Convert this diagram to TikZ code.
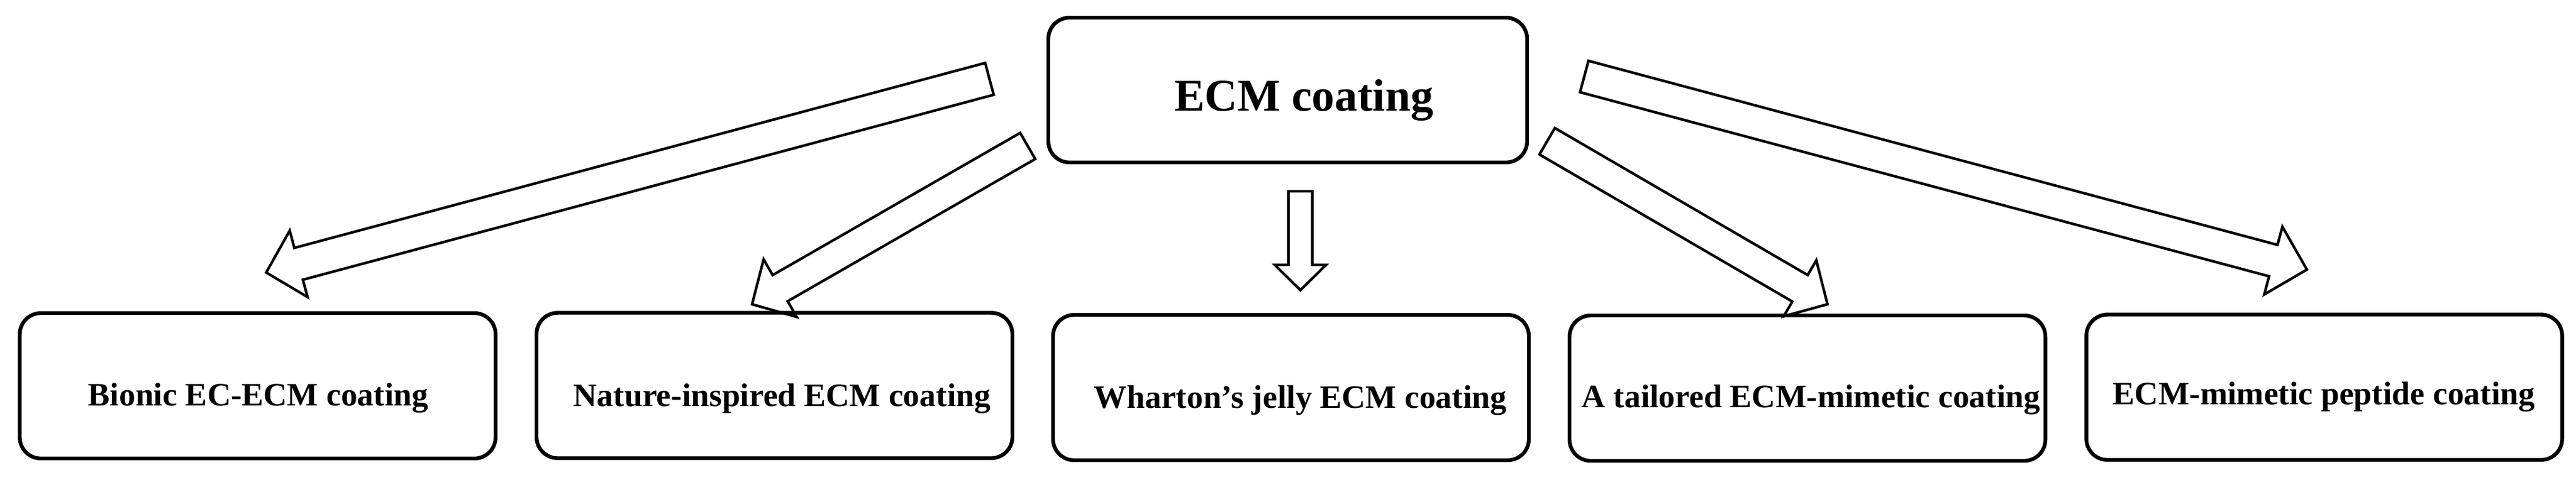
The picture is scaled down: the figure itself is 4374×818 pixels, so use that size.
\documentclass[tikz,border=0pt]{standalone}
\usepackage{fontspec}
\setmainfont{Liberation Serif}
\usetikzlibrary{calc}
\newcommand{\blockarrow}[5]{%
  \coordinate (bah) at ($(#2)!#5!(#1)$);
  \draw[blockarr] ($(#1)!#3!90:(#2)$) -- ($(bah)!#3!-90:(#1)$) -- ($(bah)!#4!-90:(#1)$) -- (#2)
    -- ($(bah)!#4!90:(#1)$) -- ($(bah)!#3!90:(#1)$) -- ($(#1)!#3!-90:(#2)$) -- cycle;}
\tikzset{
  boxnode/.style={draw, line width=1.6pt, rounded corners=9pt, rectangle, inner sep=0pt,
    minimum width=202pt, minimum height=61.75pt},
  topbox/.style={boxnode, minimum width=203.25pt, minimum height=61.5pt},
  lbl/.style={anchor=base, inner sep=0pt, font=\fontsize{13.9}{16}\selectfont\bfseries},
  toplbl/.style={anchor=base, inner sep=0pt, font=\fontsize{19.3}{22}\selectfont\bfseries},
  blockarr/.style={draw, line width=1.1pt, line join=miter}
}
\begin{document}
\begin{tikzpicture}[x=0.25pt, y=-0.25pt]
\useasboundingbox (0,0) rectangle (4374,818);
% top node
\node[topbox] (top) at (2186.5,153) {};
\node[toplbl] (toptext) at (2214,188) {ECM coating};
% bottom nodes
\node[boxnode] (b1) at (437.5,655.5) {};
\node[boxnode] (b2) at (1315,655) {};
\node[boxnode] (b3) at (2192,658.5) {};
\node[boxnode] (b4) at (3069,659.5) {};
\node[boxnode] (b5) at (3946.5,658) {};
\node[lbl] (t1) at (438.5,689) {Bionic EC-ECM coating};
\node[lbl] (t2) at (1328,690) {Nature-inspired ECM coating};
\node[lbl] (t3) at (2208,693) {Wharton’s jelly ECM coating};
\node[lbl] (t4) at (3075,692) {A tailored ECM-mimetic coating};
\node[lbl] (t5) at (3946,687) {ECM-mimetic peptide coating};
% arrow ends
\coordinate (a1s) at (1680,134); \coordinate (a1e) at (452,463);
\coordinate (a2s) at (1745,248); \coordinate (a2e) at (1277,517);
\coordinate (a3s) at (2208,325); \coordinate (a3e) at (2208,493);
\coordinate (a4s) at (2627,240); \coordinate (a4e) at (3103,517);
\coordinate (a5s) at (2690,130); \coordinate (a5e) at (3917,458);
\blockarrow{a1s}{a1e}{7pt}{14.6pt}{14.25pt}
\blockarrow{a2s}{a2e}{6.4pt}{14.1pt}{13.75pt}
\blockarrow{a3s}{a3e}{5.1pt}{10.9pt}{10.75pt}
\blockarrow{a4s}{a4e}{6.5pt}{13.75pt}{13.5pt}
\blockarrow{a5s}{a5e}{6.9pt}{14.9pt}{14.75pt}
\end{tikzpicture}
\end{document}
